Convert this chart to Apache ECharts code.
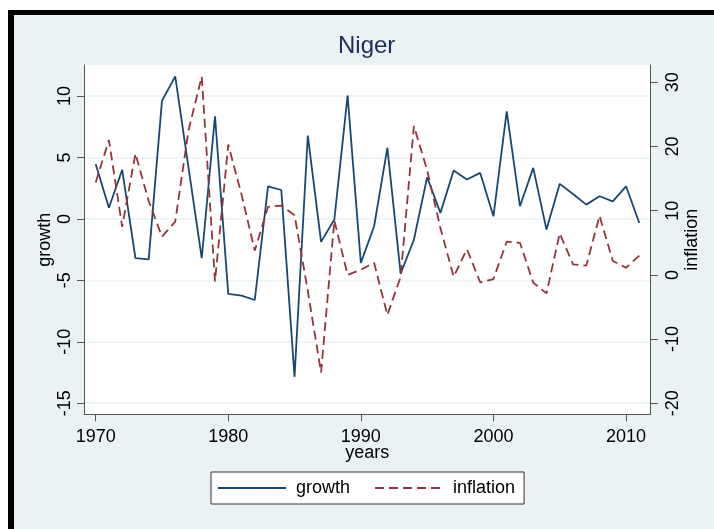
<!DOCTYPE html>
<html>
<head>
<meta charset="utf-8">
<script src="https://cdn.jsdelivr.net/npm/echarts@6/dist/echarts.min.js"></script>
<style>
html,body{margin:0;padding:0;background:#fff;}
#c{width:714px;height:529px;}
</style>
</head>
<body>
<div id="c"></div>
<script>
var years = [1970,1971,1972,1973,1974,1975,1976,1977,1978,1979,1980,1981,1982,1983,1984,1985,1986,1987,1988,1989,1990,1991,1992,1993,1994,1995,1996,1997,1998,1999,2000,2001,2002,2003,2004,2005,2006,2007,2008,2009,2010,2011];
var growth = [4.47,0.9,4.0,-3.2,-3.3,9.6,11.6,4.2,-3.2,8.35,-6.1,-6.25,-6.6,2.65,2.35,-12.85,6.78,-1.87,-0.05,10.03,-3.58,-0.6,5.78,-4.45,-1.7,3.39,0.49,3.93,3.2,3.74,0.21,8.75,1.03,4.15,-0.87,2.85,2.03,1.16,1.84,1.43,2.65,-0.33];
var inflation = [14.4,21.0,7.5,18.9,11.5,5.95,8.3,22.5,30.9,-1.0,20.3,12.5,3.8,10.6,10.8,9.3,-2.5,-15.2,8.5,0.0,0.8,1.9,-6.25,-0.3,23.2,16.3,7.3,-0.3,4.0,-1.15,-0.64,5.17,5.0,-1.2,-2.87,6.48,1.65,1.43,9.22,2.17,1.12,3.0];
var xTicks = [1970,1980,1990,2000,2010];
var growthTicks = [-15,-10,-5,0,5,10];
var inflationTicks = [-20,-10,0,10,20,30];

var FONT = '"Liberation Sans", Arial, sans-serif';
var FS = 18;
var chart = echarts.init(document.getElementById('c'), null, {renderer:'canvas'});
chart.setOption({
  backgroundColor: '#ffffff',
  animation: false,
  graphic: [
    {type:'rect', z:-20, silent:true, shape:{x:8,y:10,width:706,height:519}, style:{fill:'#000000'}},
    {type:'rect', z:-19, silent:true, shape:{x:14,y:15,width:700,height:514}, style:{fill:'#EAF2F3'}}
  ],
  title: {
    text: 'Niger',
    left: 338, top: 34,
    padding: 0,
    textStyle: {fontFamily: FONT, fontSize: 24, fontWeight: 'normal', color: '#1C2D57'}
  },
  grid: {
    left: 84, right: 63.3, top: 65, bottom: 114.7,
    show: true, backgroundColor: '#ffffff', borderWidth: 0, containLabel: false
  },
  legend: {
    left: 211, top: 472,
    padding: [7, 9, 7, 6],
    backgroundColor: '#ffffff',
    borderColor: '#333333', borderWidth: 1,
    itemWidth: 68, itemHeight: 14, itemGap: 24,
    itemStyle: {opacity: 0},
    textStyle: {fontFamily: FONT, fontSize: FS, color: '#000', padding: [0, 0, 0, 5]},
    data: ['growth', 'inflation']
  },
  xAxis: {
    type: 'value',
    min: 1969.12, max: 2011.86,
    name: 'years', nameLocation: 'middle', nameGap: 30, nameMoveOverlap: false,
    nameTextStyle: {fontFamily: FONT, fontSize: FS, color: '#000'},
    axisLine: {show: true, onZero: false, lineStyle: {color: '#555', width: 1}},
    axisTick: {show: true, length: 7, customValues: xTicks, lineStyle: {color: '#555'}},
    axisLabel: {customValues: xTicks, margin: 14, fontFamily: FONT, fontSize: FS, color: '#000',
      formatter: function(v){ return String(v); }},
    splitLine: {show: false}
  },
  yAxis: [
    {
      type: 'value', position: 'left',
      min: -15.9, max: 12.52,
      name: 'growth', nameLocation: 'middle', nameGap: 30, nameRotate: 90, nameMoveOverlap: false,
      nameTextStyle: {fontFamily: FONT, fontSize: FS, color: '#000'},
      axisLine: {show: true, onZero: false, lineStyle: {color: '#555', width: 1}},
      axisTick: {show: true, length: 7, customValues: growthTicks, lineStyle: {color: '#555'}},
      axisLabel: {customValues: growthTicks, rotate: 90, margin: 10, fontFamily: FONT, fontSize: FS, color: '#000'},
      splitLine: {show: true, lineStyle: {color: '#EAF2F3', width: 1.5}}
    },
    {
      type: 'value', position: 'right',
      min: -21.71, max: 32.69,
      name: 'inflation', nameLocation: 'middle', nameGap: 32, nameRotate: 90, nameMoveOverlap: false,
      nameTextStyle: {fontFamily: FONT, fontSize: FS, color: '#000'},
      axisLine: {show: true, onZero: false, lineStyle: {color: '#555', width: 1}},
      axisTick: {show: true, length: 7, customValues: inflationTicks, lineStyle: {color: '#555'}},
      axisLabel: {customValues: inflationTicks, rotate: 90, margin: 13, fontFamily: FONT, fontSize: FS, color: '#000'},
      splitLine: {show: false}
    }
  ],
  series: [
    {
      name: 'growth', type: 'line', yAxisIndex: 0,
      data: years.map(function(y, i){ return [y, growth[i]]; }),
      symbol: 'none', smooth: false,
      lineStyle: {color: '#1A476F', width: 1.8},
      itemStyle: {color: '#1A476F'}
    },
    {
      name: 'inflation', type: 'line', yAxisIndex: 1,
      data: years.map(function(y, i){ return [y, inflation[i]]; }),
      symbol: 'none', smooth: false,
      lineStyle: {color: '#90353B', width: 1.8, type: [9, 5]},
      itemStyle: {color: '#90353B'}
    }
  ]
});
</script>
</body>
</html>
